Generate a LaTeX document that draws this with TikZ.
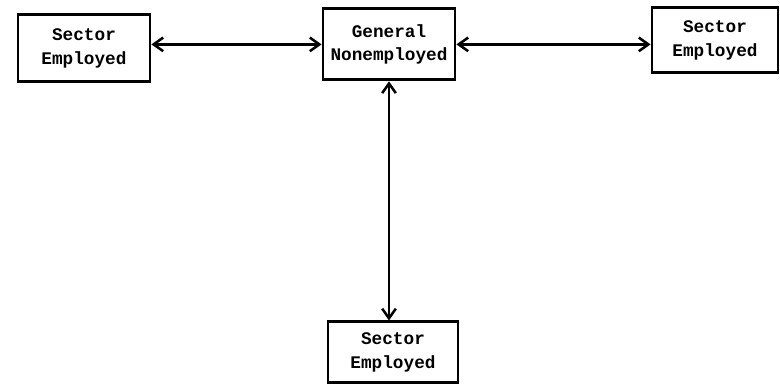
\documentclass[tikz,border=0pt]{standalone}
\usepackage{fontspec}
\setmonofont{Liberation Mono}
\usetikzlibrary{arrows.meta}
\begin{document}
\begin{tikzpicture}[
    box/.style={draw,line width=2pt,shape=rectangle,align=center,
      font=\ttfamily\bfseries\fontsize{12.6}{17}\selectfont},
    link/.style={{Straight Barb[length=2.4mm,width=3.4mm,line width=1.8pt]}-{Straight Barb[length=2.4mm,width=3.4mm,line width=1.8pt]},line width=1.7pt}]
  \useasboundingbox (0,0) rectangle (19.5,-9.625);
  %\draw[step=1cm,gray,very thin] (0,0) grid (19.5,-9.625);
  \node[box,minimum width=3.3cm,minimum height=1.675cm] (SecL) at (2.1,-1.21) {Sector\\Employed};
  \node[box,minimum width=3.3cm,minimum height=1.775cm] (Gen) at (9.725,-1.11) {General\\Nonemployed};
  \node[box,minimum width=3.15cm,minimum height=1.625cm] (SecR) at (17.875,-1.01) {Sector\\Employed};
  \node[box,minimum width=3.25cm,minimum height=1.525cm] (SecB) at (9.825,-8.81) {Sector\\Employed};
  \draw[link] (SecL.east |- Gen.west) -- (Gen.west);
  \draw[link] (Gen.east) -- (SecR.west |- Gen.east);
  \draw[link] (Gen.south) -- (Gen.south |- SecB.north);
\end{tikzpicture}
\end{document}
